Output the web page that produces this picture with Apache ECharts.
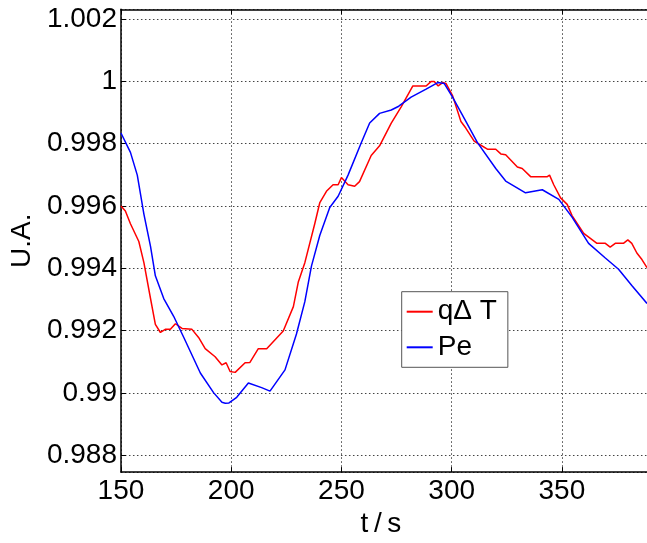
<!DOCTYPE html>
<html>
<head>
<meta charset="utf-8">
<script src="https://cdn.jsdelivr.net/npm/echarts@6/dist/echarts.min.js"></script>
<style>html,body{margin:0;padding:0;background:#fff;}#c{width:647px;height:543px;}</style>
</head>
<body>
<div id="c"></div>
<script>
const redName = 'qΔ T';
const blueName = 'Pe';
const tRed = [150,152,154.3,158.1,160.4,163.4,165.6,167.9,170.1,172.4,174.7,177.7,182.2,185.2,188.2,192.7,195.8,197.7,199.5,201.8,206.3,208.5,212.3,216.1,223.6,228.2,230.4,233.4,237.9,240.2,243.2,246.2,248.5,250,253,256,258.2,263.5,267.3,272.6,277.1,282.4,288.4,290.6,292.1,293.9,295.9,297.4,300.4,304.2,306.4,310.2,312.5,316.2,320,322.3,324.5,329.8,332,335.8,343.4,344.4,346.3,349.4,352.4,354.6,359.9,362.9,365.9,369.7,371.9,374.2,377.9,379.9,381.7,384,386.3,388.6];
const vRed = [0.99600,0.99584,0.99543,0.99486,0.99418,0.99303,0.99220,0.99194,0.99204,0.99204,0.99222,0.99207,0.99204,0.99178,0.99142,0.99116,0.99090,0.99097,0.99069,0.99066,0.99097,0.99098,0.99142,0.99142,0.99199,0.99277,0.99355,0.99418,0.99543,0.99611,0.99647,0.99668,0.99668,0.99691,0.99668,0.99663,0.99678,0.99762,0.99793,0.99866,0.99918,0.99985,0.99985,0.99999,0.99999,0.99985,0.99996,0.99993,0.99954,0.99871,0.99850,0.99808,0.99798,0.99782,0.99782,0.99767,0.99764,0.99725,0.99720,0.99694,0.99694,0.99699,0.99668,0.99626,0.99605,0.99569,0.99512,0.99496,0.99480,0.99480,0.99468,0.99480,0.99480,0.99491,0.99480,0.99449,0.99428,0.99402];
const tBlue = [150,154.3,157.4,160.4,163.4,165.6,169.4,173.9,178.5,186,192,195.8,197.3,199,202.5,207.8,213.8,217.6,224.4,229.6,233.4,236.4,240.2,244.7,248.5,253,259,262.8,267.3,272.6,276,281.6,288.4,293.7,296.6,300.4,305.7,311.7,320,324.5,333.5,341.1,348.6,354.6,362.1,369.7,375.7,381.7,388.6];
const vBlue = [0.99834,0.99772,0.99699,0.99574,0.99470,0.99376,0.99303,0.99246,0.99178,0.99064,0.99001,0.98970,0.98967,0.98968,0.98986,0.99032,0.99017,0.99006,0.99074,0.99189,0.99293,0.99407,0.99506,0.99595,0.99631,0.99699,0.99803,0.99866,0.99897,0.99908,0.99920,0.99949,0.99975,0.99996,0.99993,0.99949,0.99881,0.99803,0.99720,0.99680,0.99642,0.99652,0.99621,0.99564,0.99480,0.99433,0.99397,0.99345,0.99287];
const xMin = 150, xMax = 388.6, xStep = 50;
const yMin = 0.98746, yMax = 1.00231, ySplits = 7;
const xName = 't\u2009/\u2009s';
const yName = 'U.A.';

const zip = (a, b) => a.map((t, i) => [t, b[i]]);
const font = 'Liberation Sans, Arial, sans-serif';
const chart = echarts.init(document.getElementById('c'));
chart.setOption({
  animation: false,
  backgroundColor: '#fff',
  grid: {left: 118.7, top: 9.3, right: 0, bottom: 59, containLabel: false},
  legend: {
    orient: 'vertical', left: 401.7, top: 291.7,
    backgroundColor: '#fff', borderColor: '#555', borderWidth: 1,
    padding: [6, 11, 6, 5], itemGap: 7.6, itemWidth: 26, itemHeight: 2,
    icon: 'rect',
    textStyle: {fontFamily: font, fontSize: 28, color: '#000'},
    data: [redName, blueName]
  },
  xAxis: [{
    type: 'value', min: xMin, max: xMax, interval: xStep,
    name: xName, nameLocation: 'middle', nameGap: 33,
    nameTextStyle: {fontFamily: font, fontSize: 28, color: '#000', padding: [0, 6, 0, 0]},
    axisLine: {show: true, lineStyle: {color: '#000', width: 1.5}},
    axisTick: {show: true, inside: true, length: 5, lineStyle: {color: '#000'}},
    axisLabel: {fontFamily: font, fontSize: 28, color: '#000', margin: 5, showMaxLabel: false},
    splitLine: {show: true, lineStyle: {type: [1.5, 2.5], color: '#444', width: 1}}
  }, {
    type: 'value', position: 'top', min: xMin, max: xMax, interval: xStep,
    axisLine: {show: true, lineStyle: {color: '#000', width: 1.5}},
    axisTick: {show: true, inside: true, length: 5, lineStyle: {color: '#000'}},
    axisLabel: {show: false}, splitLine: {show: false}
  }],
  yAxis: {
    type: 'value', min: yMin, max: yMax, splitNumber: ySplits,
    name: yName, nameLocation: 'middle', nameGap: 84,
    nameTextStyle: {fontFamily: font, fontSize: 28, color: '#000'},
    axisLine: {show: true, lineStyle: {color: '#000', width: 1.5}},
    axisTick: {show: true, inside: true, length: 5, lineStyle: {color: '#000'}},
    axisLabel: {fontFamily: font, fontSize: 28, color: '#000', margin: 4,
      showMinLabel: false, showMaxLabel: false,
      formatter: v => String(+v.toFixed(3))},
    splitLine: {show: true, lineStyle: {type: [1.5, 2.5], color: '#444', width: 1}}
  },
  series: [
    {name: redName, type: 'line', data: zip(tRed, vRed), showSymbol: false, symbol: 'none',
     lineStyle: {color: '#ff0000', width: 1.5}, itemStyle: {color: '#ff0000'}},
    {name: blueName, type: 'line', data: zip(tBlue, vBlue), showSymbol: false, symbol: 'none',
     lineStyle: {color: '#0000ff', width: 1.5}, itemStyle: {color: '#0000ff'}}
  ]
});
</script>
</body>
</html>
